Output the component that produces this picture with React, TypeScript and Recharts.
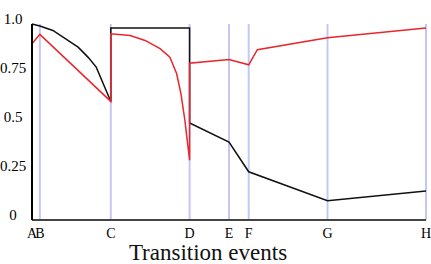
import React from 'react';
import { LineChart, Line, XAxis, YAxis, CartesianGrid } from 'recharts';

// transition events on the time axis
const eventNames = ['A', 'B', 'C', 'D', 'E', 'F', 'G', 'H'];
const eventTimes = [0, 2, 20, 40, 50, 55, 75, 100];

const yTicks = [0, 0.25, 0.5, 0.75, 1];
const yTickLabels = ['0', '0.25', '0.5', '0.75', '1.0'];

// black trace (repeated times give the vertical jumps)
const blackTimes = [0, 2, 5.3, 11.7, 14.2, 16.3, 20, 20, 40, 40, 50, 55, 75, 100];
const blackValues = [1.0, 0.99, 0.967, 0.882, 0.831, 0.78, 0.605, 0.98, 0.98, 0.495, 0.398, 0.246, 0.098, 0.148];

// red trace
const redTimes = [0, 2, 20, 20, 24.9, 28.7, 32.5, 35, 36.7, 37.8, 38.8, 39.5, 40, 40, 50, 55, 57.2, 75, 100];
const redValues = [0.899, 0.947, 0.605, 0.95, 0.941, 0.916, 0.874, 0.831, 0.747, 0.645, 0.509, 0.39, 0.305, 0.8, 0.819, 0.792, 0.869, 0.93, 0.979];

const toPoints = (ts: number[], vs: number[]) => ts.map((t, i) => ({ t, v: vs[i] }));

const blackData = toPoints(blackTimes, blackValues);
const redData = toPoints(redTimes, redValues);

const FONT = "'Liberation Serif', 'Times New Roman', serif";

const YTick = ({ y, payload }: any) => (
  <text x={13} y={y} textAnchor="middle" fontSize={15} fill="#000" style={{ fontFamily: FONT }}>
    {yTickLabels[yTicks.indexOf(payload.value)]}
  </text>
);

export default function App() {
  return (
    <div style={{ position: 'absolute', left: 0, top: 0, background: '#fff', fontFamily: FONT }}>
      <LineChart
        width={431}
        height={264}
        margin={{ top: 24, right: 5, left: 0, bottom: 0 }}
        style={{ fontFamily: FONT }}
      >
        <CartesianGrid horizontal={false} stroke="#c6c6f6" strokeWidth={2} />
        <XAxis
          type="number"
          dataKey="t"
          domain={[0, 100]}
          ticks={eventTimes}
          interval={0}
          tickFormatter={(v: number) => eventNames[eventTimes.indexOf(v)]}
          tickLine={false}
          axisLine={{ stroke: '#444', strokeWidth: 2 }}
          tick={{ fontSize: 14, fill: '#000', style: { fontFamily: FONT } }}
          height={44}
          label={{
            value: 'Transition events',
            position: 'insideBottom',
            offset: 4,
            dx: -21,
            fontSize: 23,
            fill: '#111',
            style: { fontFamily: FONT },
          }}
        />
        <YAxis
          type="number"
          domain={[0, 1]}
          ticks={yTicks}
          width={32}
          tickLine={false}
          axisLine={{ stroke: '#000', strokeWidth: 2 }}
          tick={<YTick />}
        />
        <Line
          data={blackData}
          dataKey="v"
          type="linear"
          stroke="#111"
          strokeWidth={1.5}
          dot={false}
          isAnimationActive={false}
        />
        <Line
          data={redData}
          dataKey="v"
          type="linear"
          stroke="#e8262b"
          strokeWidth={1.5}
          dot={false}
          isAnimationActive={false}
        />
      </LineChart>
    </div>
  );
}
